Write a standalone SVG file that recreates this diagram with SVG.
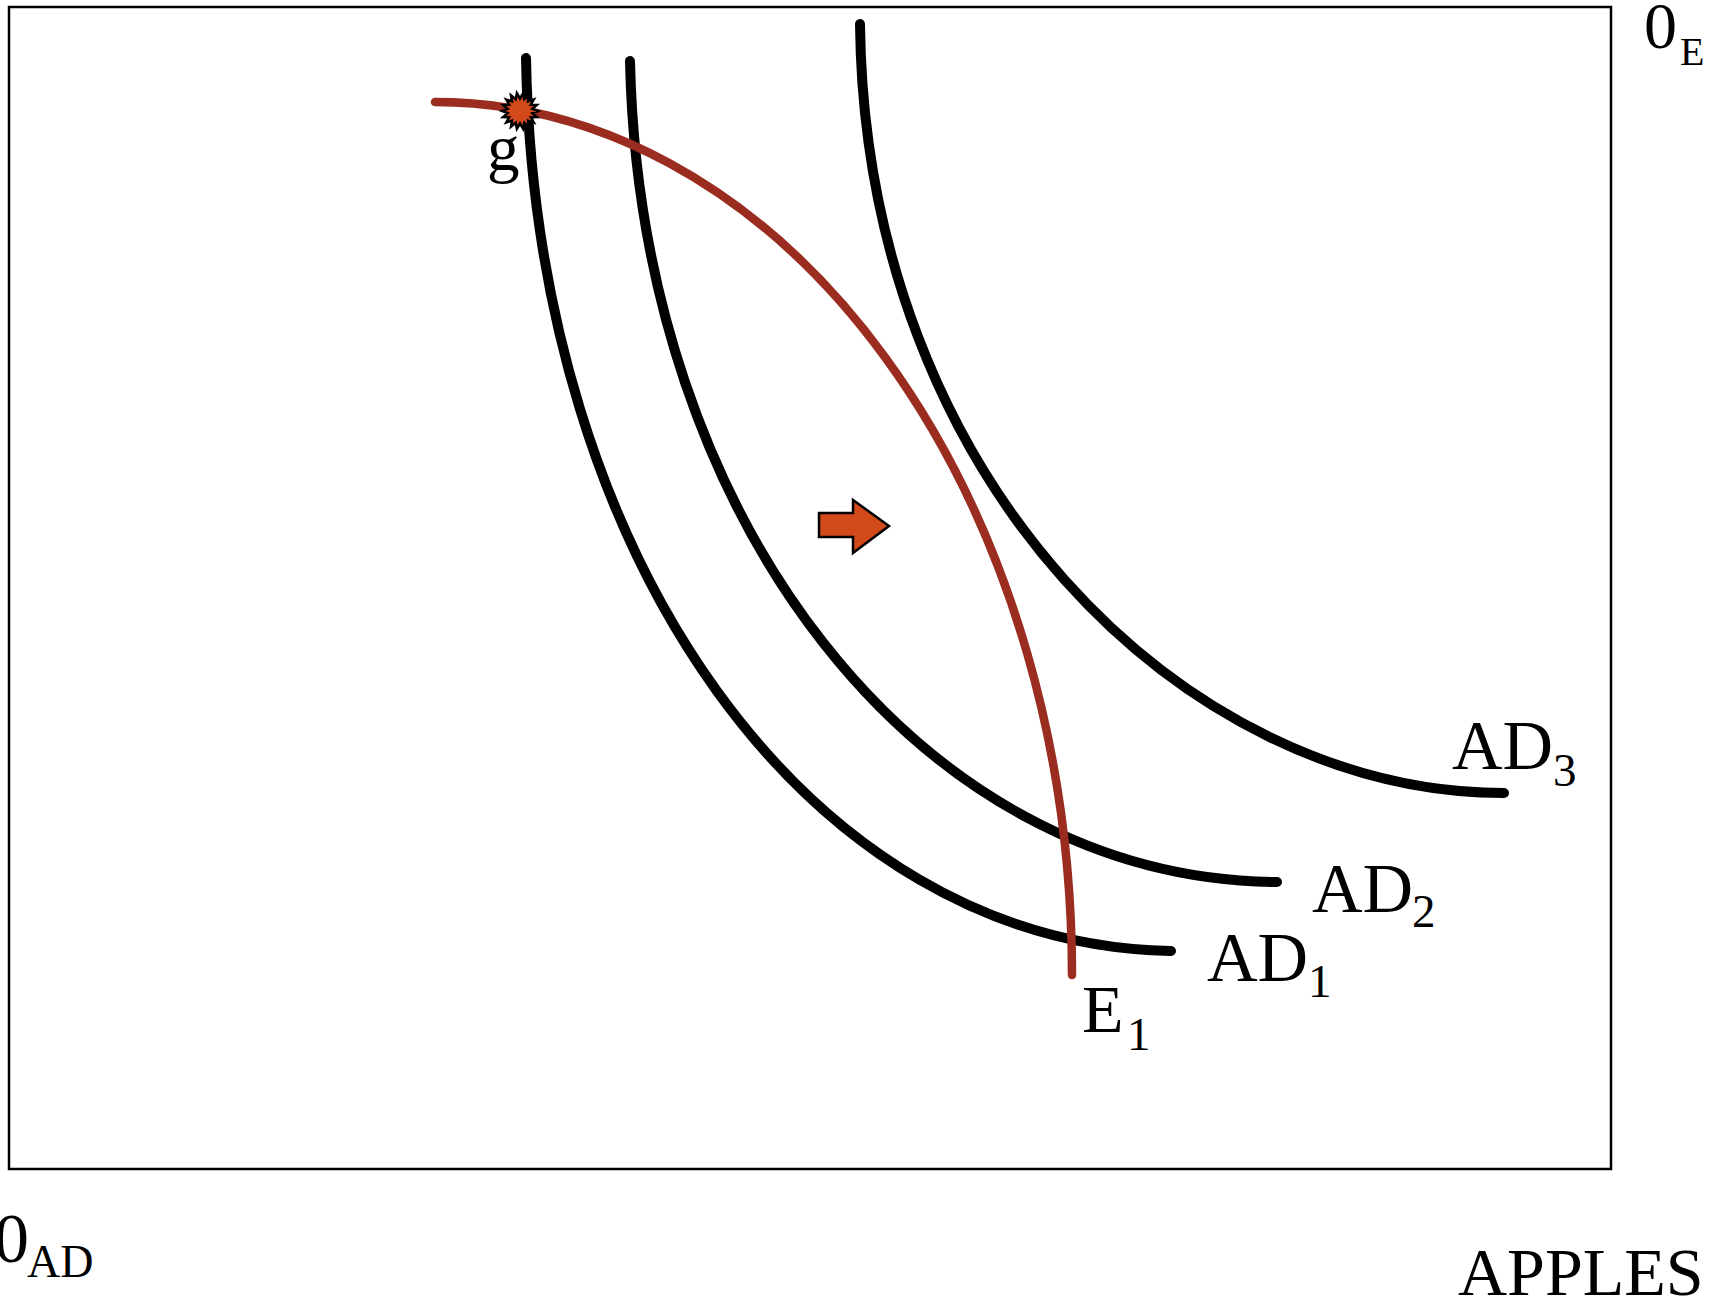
<svg xmlns="http://www.w3.org/2000/svg" width="1728" height="1305" viewBox="0 0 1728 1305">
<style>
.t{font-family:"Liberation Serif","Times New Roman",serif;fill:#000}
.big{font-size:70px}
.sub{font-size:47px}
.ad{fill:none;stroke:#000;stroke-width:10;stroke-linecap:round}
.e{fill:none;stroke:#9B2D20;stroke-width:8.5;stroke-linecap:round}
.mk{fill:#D24A1A;stroke:#000;stroke-width:2.5}
</style>
<rect width="1728" height="1305" fill="#fff"/>
<g id="frame"><rect x="9" y="7" width="1602" height="1162" fill="none" stroke="#000" stroke-width="2.5"/></g>
<g id="connectors">
<path id="AD1-curve" class="ad" d="M526,58 C535,560 810,945 1171,951"/>
<path id="AD2-curve" class="ad" d="M630,61 C640,520 920,880 1277,882"/>
<path id="AD3-curve" class="ad" d="M860,24 C865,480 1185,793 1504,793"/>
<path id="E1-curve" class="e" d="M435,102 A637,873 0 0 1 1072,975"/>
</g>
<g id="point-g">
<polygon class="mk" points="538,111 532.31,113.17 536.91,117.16 530.83,117.25 533.79,122.57 528.04,120.58 529,126.59 524.28,122.75 523.12,128.73 520,123.5 516.88,128.73 515.72,122.75 511,126.59 511.96,120.58 506.21,122.57 509.17,117.25 503.09,117.16 507.69,113.17 502,111 507.69,108.83 503.09,104.84 509.17,104.75 506.21,99.43 511.96,101.42 511,95.41 515.72,99.25 516.88,93.27 520,98.5 523.12,93.27 524.28,99.25 529,95.41 528.04,101.42 533.79,99.43 530.83,104.75 536.91,104.84 532.31,108.83"/>
<text class="t" style="font-size:65px" x="487" y="170">g</text>
</g>
<g id="arrow"><polygon class="mk" points="819,513 853,513 853,500 889,526 853,553 853,537 819,537"/></g>
<g id="label-AD1"><text class="t big" x="1207" y="981">AD</text><text class="t sub" x="1308" y="997">1</text></g>
<g id="label-AD2"><text class="t big" x="1312" y="912">AD</text><text class="t sub" x="1412" y="927">2</text></g>
<g id="label-AD3"><text class="t big" x="1452" y="769">AD</text><text class="t sub" x="1553" y="786">3</text></g>
<g id="label-E1"><text class="t" style="font-size:68px" x="1082" y="1032">E</text><text class="t sub" x="1127" y="1050">1</text></g>
<g id="label-0E"><text class="t" style="font-size:66px" x="1644" y="48">0</text><text class="t" style="font-size:40px" x="1680" y="65">E</text></g>
<g id="label-0AD"><text class="t big" x="-6" y="1262">0</text><text class="t" style="font-size:46px" x="27" y="1277">AD</text></g>
<g id="label-apples"><text class="t" style="font-size:68px" x="1458" y="1295">APPLES</text></g>
</svg>
